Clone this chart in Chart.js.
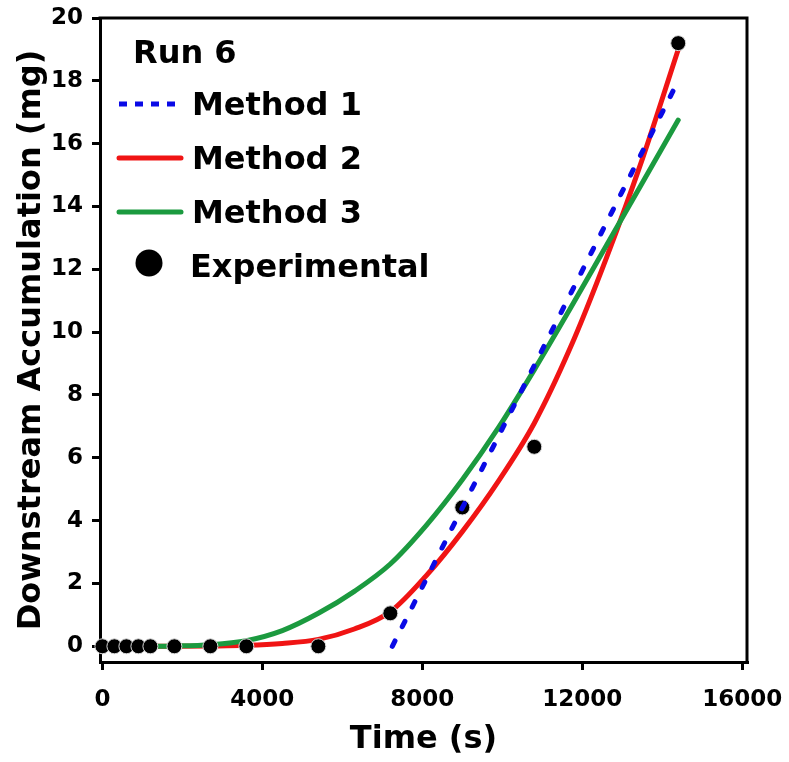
<!DOCTYPE html>
<html>
<head>
<meta charset="utf-8">
<script src="https://cdn.jsdelivr.net/npm/chart.js@4.4.1/dist/chart.umd.min.js"></script>
<style>
html,body{margin:0;padding:0;background:#fff;}
canvas{display:block;}
</style>
</head>
<body>
<canvas id="c" width="789" height="762"></canvas>
<script>
// ---- data ----
const LEGEND_TITLE = 'Run 6';
const X_TITLE = 'Time (s)';
const Y_TITLE = 'Downstream Accumulation (mg)';
const X_TICKS = [0, 4000, 8000, 12000, 16000];
const Y_TICKS = [0, 2, 4, 6, 8, 10, 12, 14, 16, 18, 20];
const SERIES_LABELS = ['Method 1', 'Method 2', 'Method 3', 'Experimental'];

const EXP_TIME = [0, 300, 600, 900, 1200, 1800, 2700, 3600, 5400, 7200, 9000, 10800, 14400];
const EXP_MASS = [0, 0, 0, 0, 0, 0, 0, 0, 0, 1.05, 4.42, 6.35, 19.2];

const M1_TIME = [7250, 14400];
const M1_MASS = [0, 18.0];

const MODEL_TIME = [0, 900, 1800, 2700, 3600, 4500, 5400, 6300, 7200, 8100, 9000, 9900, 10800, 11700, 12600, 13500, 14400];
const M2_MASS = [0, 0, 0, 0.01, 0.03, 0.09, 0.22, 0.55, 1.1, 2.25, 3.65, 5.25, 7.1, 9.5, 12.35, 15.5, 19.0];
const M3_MASS = [0, 0, 0.01, 0.05, 0.18, 0.5, 1.05, 1.75, 2.62, 3.85, 5.3, 6.95, 8.8, 10.75, 12.75, 14.75, 16.75];

const COLORS = ['#0a0ae6', '#f01414', '#1b9a3f', '#000000'];

function pairs(xs, ys) { return xs.map((x, i) => ({ x: x, y: ys[i] })); }

const FONT = 'DejaVu Sans';
Chart.defaults.font.family = FONT;
Chart.defaults.font.weight = 'bold';
Chart.defaults.color = '#000';

const framePlugin = {
  id: 'frame',
  afterDraw(chart) {
    const { ctx, chartArea: a } = chart;
    ctx.save();
    ctx.strokeStyle = '#000';
    ctx.lineWidth = 3;
    ctx.beginPath();
    ctx.moveTo(a.left - 1.5, a.top);
    ctx.lineTo(a.right, a.top);
    ctx.lineTo(a.right, a.bottom + 1.5);
    ctx.stroke();
    ctx.restore();
  }
};

const legendPlugin = {
  id: 'insideLegend',
  afterDraw(chart) {
    const { ctx, chartArea: a } = chart;
    const ds = chart.data.datasets;
    ctx.save();
    ctx.font = 'bold 32px "' + FONT + '"';
    ctx.fillStyle = '#000';
    ctx.textBaseline = 'alphabetic';
    ctx.textAlign = 'left';
    ctx.fillText(LEGEND_TITLE, a.left + 33, a.top + 45);
    const base0 = a.top + 97;
    const step = 54;
    ds.forEach((d, i) => {
      const yb = base0 + i * step;
      if (d.showLine) {
        const yl = yb - 11;
        ctx.save();
        ctx.strokeStyle = d.borderColor;
        ctx.lineWidth = 5;
        const dashed = d.borderDash && d.borderDash.length;
        ctx.lineCap = dashed ? 'butt' : 'round';
        ctx.setLineDash(dashed ? [8, 8] : []);
        ctx.beginPath();
        ctx.moveTo(a.left + 19, yl);
        ctx.lineTo(a.left + 81, yl);
        ctx.stroke();
        ctx.restore();
        ctx.fillText(d.label, a.left + 92, yb);
      } else {
        ctx.beginPath();
        ctx.fillStyle = d.backgroundColor;
        ctx.arc(a.left + 49, yb - 14, 13.5, 0, Math.PI * 2);
        ctx.fill();
        ctx.fillStyle = '#000';
        ctx.fillText(d.label, a.left + 90, yb);
      }
    });
    ctx.restore();
  }
};

new Chart(document.getElementById('c'), {
  type: 'scatter',
  data: {
    datasets: [
      {
        label: SERIES_LABELS[0],
        data: pairs(M1_TIME, M1_MASS),
        showLine: true,
        borderColor: COLORS[0],
        backgroundColor: COLORS[0],
        borderWidth: 5,
        borderDash: [6, 16],
        borderCapStyle: 'round',
        pointRadius: 0,
        order: 0
      },
      {
        label: SERIES_LABELS[1],
        data: pairs(MODEL_TIME, M2_MASS),
        showLine: true,
        borderColor: COLORS[1],
        backgroundColor: COLORS[1],
        borderWidth: 5,
        borderCapStyle: 'round',
        cubicInterpolationMode: 'monotone',
        pointRadius: 0,
        order: 3
      },
      {
        label: SERIES_LABELS[2],
        data: pairs(MODEL_TIME, M3_MASS),
        showLine: true,
        borderColor: COLORS[2],
        backgroundColor: COLORS[2],
        borderWidth: 5,
        borderCapStyle: 'round',
        cubicInterpolationMode: 'monotone',
        pointRadius: 0,
        order: 2
      },
      {
        label: SERIES_LABELS[3],
        data: pairs(EXP_TIME, EXP_MASS),
        showLine: false,
        backgroundColor: COLORS[3],
        borderColor: '#d8d8d8',
        borderWidth: 1,
        pointRadius: 7.5,
        pointHoverRadius: 7.5,
        clip: false,
        order: 1
      }
    ]
  },
  options: {
    responsive: false,
    animation: false,
    devicePixelRatio: 1,
    layout: { padding: { top: 18, right: 42, bottom: 0, left: 0 } },
    plugins: { legend: { display: false }, tooltip: { enabled: false } },
    scales: {
      x: {
        type: 'linear',
        min: -60,
        max: 16120,
        afterBuildTicks: s => { s.ticks = X_TICKS.map(v => ({ value: v })); },
        afterFit: s => { s.height = 100; s.paddingLeft = 0; s.paddingRight = 0; },
        grid: { display: true, drawOnChartArea: false, drawTicks: true, tickLength: 8, lineWidth: 3, color: '#000' },
        border: { display: true, color: '#000', width: 3 },
        ticks: { font: { size: 23, weight: 'bold' }, color: '#000', padding: 16, maxRotation: 0, autoSkip: false, callback: v => String(v) },
        title: { display: true, text: X_TITLE, font: { size: 32, weight: 'bold' }, color: '#000', padding: { top: 0, bottom: 3 } }
      },
      y: {
        type: 'linear',
        min: -0.5,
        max: 20,
        afterBuildTicks: s => { s.ticks = Y_TICKS.map(v => ({ value: v })); },
        afterFit: s => { s.width = 100; s.paddingTop = 0; s.paddingBottom = 0; },
        grid: { display: true, drawOnChartArea: false, drawTicks: true, tickLength: 8, lineWidth: 3, color: '#000' },
        border: { display: true, color: '#000', width: 3 },
        ticks: { font: { size: 23, weight: 'bold' }, color: '#000', padding: 9, autoSkip: false, callback: v => String(v) },
        title: { display: true, text: Y_TITLE, font: { size: 32, weight: 'bold' }, color: '#000', padding: { top: 12, bottom: 0 } }
      }
    }
  },
  plugins: [framePlugin, legendPlugin]
});
</script>
</body>
</html>
